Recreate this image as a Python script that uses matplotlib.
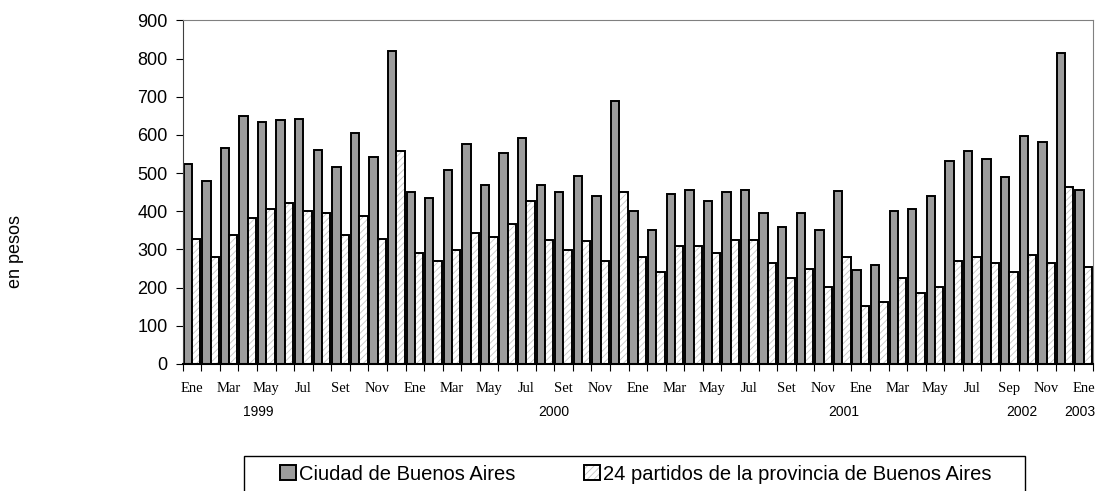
import numpy as np
import matplotlib
matplotlib.use("Agg")
import matplotlib.pyplot as plt
from matplotlib.patches import Rectangle

# monthly values, Ene 1999 .. Ene 2003
ciudad = [525, 480, 565, 650, 633, 640, 643, 560, 515, 605, 543, 820,
          451, 434, 507, 576, 469, 553, 593, 469, 450, 492, 440, 690,
          400, 350, 446, 456, 428, 451, 456, 395, 360, 395, 350, 452,
          247, 259, 400, 406, 440, 531, 559, 537, 491, 598, 581, 815,
          456]
partidos = [327, 281, 338, 383, 406, 423, 400, 395, 338, 389, 327, 559,
            292, 270, 299, 344, 332, 366, 428, 326, 299, 321, 270, 451,
            281, 242, 309, 309, 292, 326, 326, 264, 225, 248, 202, 281,
            151, 162, 225, 186, 202, 270, 281, 264, 241, 286, 264, 464,
            254]
meses = ["Ene", "Mar", "May", "Jul", "Set", "Nov",
         "Ene", "Mar", "May", "Jul", "Set", "Nov",
         "Ene", "Mar", "May", "Jul", "Set", "Nov",
         "Ene", "Mar", "May", "Jul", "Sep", "Nov",
         "Ene"]
anios = ["1999", "2000", "2001", "2002", "2003"]
anio_pos = [3.55, 19.5, 35.1, 44.7, 47.8]
series = ["Ciudad de Buenos Aires", "24 partidos de la provincia de Buenos Aires"]

plt.rcParams['font.family'] = ['Liberation Sans', 'DejaVu Sans']
plt.rcParams['hatch.linewidth'] = 0.6

fig = plt.figure(figsize=(11.01, 4.91), dpi=100)
ax = fig.add_axes([0.1659, 0.2587, 0.8268, 0.6996])

x = np.arange(len(ciudad))
w = 0.45

b1 = ax.bar(x - w / 2, ciudad, w, color="#9c9c9c", edgecolor="black", linewidth=1.4, zorder=2)
# hatch drawn in light grey, outline drawn on top in black
h2 = ax.bar(x + w / 2, partidos, w, color="white", edgecolor="#c4c4c4", hatch="/////",
            linewidth=0, zorder=2)
b2 = ax.bar(x + w / 2, partidos, w, fill=False, edgecolor="black", linewidth=1.4, zorder=3)

ax.set_xlim(-0.5, len(ciudad) - 0.5)
ax.set_ylim(0, 900)
ax.set_yticks(range(0, 1000, 100))
ax.tick_params(axis="y", labelsize=13, length=5, width=0.8, direction="out", pad=6)

ax.set_xticks(x[::2])
ax.set_xticklabels(meses, family="Liberation Serif", fontsize=10.5)
ax.set_xticks(np.arange(len(ciudad) + 1) - 0.5, minor=True)
ax.tick_params(axis="x", which="major", length=0, pad=13)
ax.tick_params(axis="x", which="minor", length=5, width=0.8, direction="out")

for s in ["top", "right"]:
    ax.spines[s].set_color("#808080")
ax.spines["left"].set_color("#404040")
ax.spines["bottom"].set_color("black")
ax.spines["bottom"].set_linewidth(1.5)

for a, p in zip(anios, anio_pos):
    ax.text(p, -0.139, a, transform=ax.get_xaxis_transform(), ha="center", va="center", fontsize=10)

fig.text(15 / 1101, 1 - 252 / 491, "en pesos", rotation=90, ha="center", va="center", fontsize=13)

fig.patches.append(Rectangle((244 / 1101, -0.05), 781 / 1101, 0.05 + 35 / 491,
                             transform=fig.transFigure, fill=False, edgecolor="black", linewidth=1))
fig.legend([b1[0], (h2[0], b2[0])], series, loc="center left",
           bbox_to_anchor=(280 / 1101, 1 - 474 / 491), ncol=2, frameon=False,
           borderpad=0, borderaxespad=0, handlelength=0.8, handleheight=0.8,
           handletextpad=0.15, columnspacing=3.4, fontsize=14.5)

fig.savefig("out.png", dpi=100)
